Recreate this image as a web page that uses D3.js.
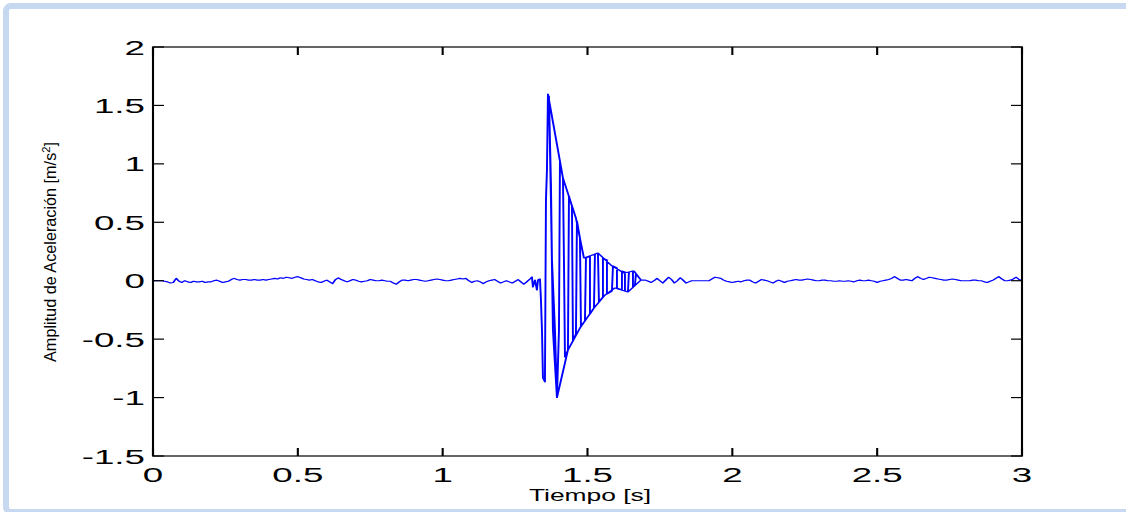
<!DOCTYPE html>
<html>
<head>
<meta charset="utf-8">
<script src="https://cdn.jsdelivr.net/npm/d3@7"></script>
<style>
  body { margin: 0; background: #fff; }
  svg { display: block; }
</style>
</head>
<body>
<div id="chart"></div>
<script>
// sampled noise before and after the impact (sample clock: start + i * step)
const noiseStep = 0.01;
const noiseBeforeStart = 0;
const noiseBefore = [
  0, 0, 0, 0, -0.005, -0.01, -0.02, -0.015, 0.02, -0.005,
  -0.015, 0, -0.01, -0.015, -0.005, -0.01, -0.01, -0.005, -0.015, -0.01,
  -0.01, 0, 0.005, -0.005, -0.015, -0.01, -0.005, 0.01, 0.02, 0.01,
  0.005, 0.01, 0.01, 0.005, 0.005, 0.01, 0.005, 0.005, 0.01, 0.005,
  0.01, 0.015, 0.02, 0.015, 0.025, 0.02, 0.03, 0.025, 0.02, 0.03,
  0.035, 0.025, 0.015, 0.01, 0.005, 0.01, 0, -0.01, -0.015, -0.005,
  0.005, -0.01, -0.025, 0.01, 0.025, 0.01, 0, -0.01, 0, 0.01,
  0.005, -0.005, -0.01, -0.005, 0, 0.01, 0.005, 0, 0, 0.005,
  0, -0.005, -0.005, -0.02, -0.03, -0.01, 0.005, 0.005, 0, 0.005,
  0.01, 0.01, 0.005, 0, -0.005, 0, 0.005, 0.01, 0.015, 0.01,
  0.005, 0, 0, 0.005, 0.01, 0.015, 0.02, 0.015, 0.02, 0,
  -0.015, -0.005, 0, -0.01, -0.025, -0.01, 0, 0.005, 0.01, -0.005,
  -0.02, -0.01, 0, -0.01, -0.02, -0.005, 0.01, -0.01, -0.03, -0.01
];
const noiseAfterStart = 1.70;
const noiseAfter = [
  0.005, -0.005, -0.015, 0, 0.02, 0, -0.02, 0.005, 0.03, 0.01,
  -0.02, 0, 0.025, 0.005, -0.02, -0.01, 0, 0, 0, 0,
  0, 0, 0, 0.015, 0.03, 0.025, 0.02, 0.005, -0.005, -0.01,
  -0.015, -0.01, -0.005, -0.01, 0, 0.005, 0.005, -0.01, -0.02, -0.005,
  0.01, 0.005, 0, -0.01, -0.02, -0.005, 0.005, -0.005, -0.015, -0.005,
  0, 0.005, 0.01, 0.005, 0.005, 0.01, 0.015, 0.01, 0.005, 0,
  0, 0.005, 0.005, 0, 0, -0.005, -0.005, 0, -0.005, -0.005,
  0, -0.005, -0.01, 0, 0.005, 0, 0, 0.005, 0, -0.005,
  -0.015, -0.005, 0, 0.005, 0.01, 0.02, 0.035, 0.02, 0.005, 0.005,
  0.01, 0.005, 0, 0.02, 0.035, 0.02, 0.01, 0.02, 0.03, 0.025,
  0.02, 0.015, 0.01, 0.005, 0.005, 0.01, 0.015, 0.01, 0.005, 0,
  0, 0, 0, 0.005, 0.005, 0, 0, -0.01, -0.015, -0.005,
  0.005, 0.02, 0.035, 0.015, 0, 0, 0.005, 0.015, 0.03, 0.01,
  0
];

// impact burst, in drawing order (time is not monotonic here)
const pulseT = [
  1.3014, 1.3082, 1.3117, 1.3186, 1.3255, 1.3290, 1.3359, 1.3393, 1.3428, 1.3462,
  1.3531, 1.3566, 1.3600, 1.3635,
  1.4153, 1.4601, 1.4877, 1.5361, 1.5844, 1.6258, 1.6603, 1.6845,
  1.6396, 1.5948, 1.5602, 1.5223, 1.4739, 1.4325, 1.3945,
  1.3807, 1.3738, 1.3669, 1.3738, 1.3773, 1.3876, 1.3945,
  1.4015, 1.4049, 1.4153, 1.4187, 1.4222, 1.4325, 1.4360, 1.4463, 1.4498, 1.4601,
  1.4636, 1.4739, 1.4774, 1.4912, 1.4947, 1.5085, 1.5085, 1.5223, 1.5257, 1.5361,
  1.5395, 1.5533, 1.5533, 1.5671, 1.5671, 1.5844, 1.5879, 1.6017, 1.6017, 1.6189,
  1.6189, 1.6293, 1.6293, 1.6396, 1.6431, 1.6569, 1.6569, 1.6638, 1.6672, 1.6845
];
const pulseA = [
  0.015, 0.032, -0.054, 0.006, -0.080, 0.006, 0.015, -0.165, -0.422, -0.832,
  -0.866, 0.690, 0.947, 1.597,
  0.879, 0.535, 0.194, 0.237, 0.126, 0.066, 0.083, 0.006,
  -0.096, -0.062, -0.123, -0.234, -0.405, -0.593, -1.000,
  -0.422, 0.690, 1.580, 0.836, 0.177, -0.422, -1.000,
  -0.422, 1.016, 0.879, 0.177, -0.653, -0.593, 0.725, 0.639, -0.516, -0.456,
  0.511, 0.365, -0.388, -0.345, 0.194, 0.211, -0.285, -0.234, 0.228, 0.237,
  -0.182, -0.139, 0.194, 0.177, -0.114, -0.088, 0.126, 0.109, -0.062, -0.080,
  0.083, 0.074, -0.088, -0.096, 0.074, 0.083, -0.054, -0.037, 0.057, 0.006
];

const xTicks = [0, 0.5, 1, 1.5, 2, 2.5, 3];
const xTickLabels = ["0", "0.5", "1", "1.5", "2", "2.5", "3"];
const yTicks = [-1.5, -1, -0.5, 0, 0.5, 1, 1.5, 2];
const yTickLabels = ["-1.5", "-1", "-0.5", "0", "0.5", "1", "1.5", "2"];

const width = 1126;
const height = 512;
const plot = { left: 153, right: 1022, top: 47, bottom: 456 };
// the original figure was widened: everything is drawn narrow and stretched
const S = 1.75;
const yTickLen = 11;
const xTickLen = 8;
const font = "'Liberation Sans', Arial, sans-serif";

const series = [];
noiseBefore.forEach((v, i) => series.push([noiseBeforeStart + i * noiseStep, v]));
pulseT.forEach((t, i) => series.push([t, pulseA[i]]));
noiseAfter.forEach((v, i) => series.push([noiseAfterStart + i * noiseStep, v]));

const x = d3.scaleLinear().domain([0, 3]).range([plot.left, plot.right]);
const xn = d3.scaleLinear().domain([0, 3]).range([plot.left / S, plot.right / S]);
const y = d3.scaleLinear().domain([-1.5, 2]).range([plot.bottom, plot.top]);

const svg = d3.select("#chart")
  .append("svg")
  .attr("width", width)
  .attr("height", height);

// light blue frame around the figure
svg.append("rect")
  .attr("x", 6)
  .attr("y", 6)
  .attr("width", 1200)
  .attr("height", 506)
  .attr("rx", 5)
  .attr("fill", "#fff")
  .attr("stroke", "#c6d9f1")
  .attr("stroke-width", 6);

const g = svg.append("g").attr("transform", `scale(${S},1)`);

const line = d3.line()
  .x((d) => xn(d[0]))
  .y((d) => y(d[1]));

g.append("path")
  .datum(series)
  .attr("d", line)
  .attr("fill", "none")
  .attr("stroke", "#0000ff")
  .attr("stroke-width", 1.1)
  .attr("stroke-linejoin", "round");

// axes box with inward ticks on all four sides
const axes = g.append("g")
  .attr("stroke", "#000")
  .attr("stroke-width", 1.2)
  .attr("fill", "none");

axes.append("rect")
  .attr("x", plot.left / S)
  .attr("y", plot.top)
  .attr("width", (plot.right - plot.left) / S)
  .attr("height", plot.bottom - plot.top);

axes.selectAll(".ytl")
  .data(yTicks)
  .enter()
  .append("line")
  .attr("x1", plot.left / S)
  .attr("x2", (plot.left + yTickLen) / S)
  .attr("y1", (d) => y(d))
  .attr("y2", (d) => y(d));

axes.selectAll(".ytr")
  .data(yTicks)
  .enter()
  .append("line")
  .attr("x1", plot.right / S)
  .attr("x2", (plot.right - yTickLen) / S)
  .attr("y1", (d) => y(d))
  .attr("y2", (d) => y(d));

axes.selectAll(".xtb")
  .data(xTicks)
  .enter()
  .append("line")
  .attr("x1", (d) => xn(d))
  .attr("x2", (d) => xn(d))
  .attr("y1", plot.bottom)
  .attr("y2", plot.bottom - xTickLen);

axes.selectAll(".xtt")
  .data(xTicks)
  .enter()
  .append("line")
  .attr("x1", (d) => xn(d))
  .attr("x2", (d) => xn(d))
  .attr("y1", plot.top)
  .attr("y2", plot.top + xTickLen);

svg.append("g")
  .selectAll("text")
  .data(yTicks)
  .enter()
  .append("text")
  .attr("transform", (d) => `translate(145,${y(d)}) scale(${S},1)`)
  .attr("dy", "0.36em")
  .attr("text-anchor", "end")
  .style("font-family", font)
  .style("font-size", "21px")
  .attr("fill", "#000")
  .text((d, i) => yTickLabels[i]);

svg.append("g")
  .selectAll("text")
  .data(xTicks)
  .enter()
  .append("text")
  .attr("transform", (d) => `translate(${x(d)},482) scale(${S},1)`)
  .attr("text-anchor", "middle")
  .style("font-family", font)
  .style("font-size", "21px")
  .attr("fill", "#000")
  .text((d, i) => xTickLabels[i]);

svg.append("text")
  .attr("transform", `translate(590,501) scale(1.65,1)`)
  .attr("text-anchor", "middle")
  .style("font-family", font)
  .style("font-size", "16px")
  .attr("fill", "#000")
  .text("Tiempo [s]");

// y label, squeezed to the narrow look of the original
const ylab = svg.append("text")
  .attr("text-anchor", "middle")
  .style("font-family", font)
  .style("font-size", "16px")
  .attr("fill", "#000");
ylab.append("tspan").text("Amplitud de Aceleración [m/s");
ylab.append("tspan").attr("dy", -6).style("font-size", "11px").text("2");
ylab.append("tspan").attr("dy", 6).text("]");
const labLen = ylab.node().getComputedTextLength();
const sx = 220 / labLen;
ylab.attr("transform", `translate(56,252) rotate(-90) scale(${sx},1)`);
</script>
</body>
</html>
